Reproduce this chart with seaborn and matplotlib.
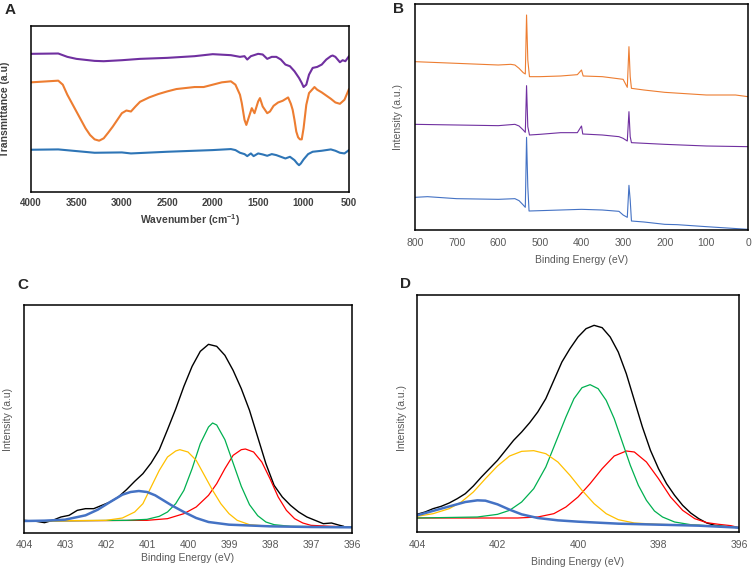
import numpy as np
import pandas as pd
import matplotlib.pyplot as plt
import seaborn as sns

sns.set_style("white")
plt.rcParams['font.family'] = ['Liberation Sans', 'DejaVu Sans']
plt.rcParams['mathtext.fontset'] = 'custom'
plt.rcParams['mathtext.rm'] = 'Liberation Sans'
plt.rcParams['mathtext.bf'] = 'Liberation Sans:bold'

# ---- A: FTIR, transmittance in arbitrary units ----
a_wn_purple = [4000, 3700, 3600, 3500, 3300, 3200, 3000, 2800, 2500, 2200, 2000, 1800, 1700, 1650, 1620,
               1580, 1500, 1450, 1400, 1350, 1300, 1250, 1200, 1150, 1100, 1050, 1020, 1000, 970, 940,
               900, 850, 800, 750, 700, 680, 650, 600, 570, 540, 500]
a_t_purple = [412, 413, 403, 397, 391, 390, 393, 397, 400, 405, 411, 408, 403, 405, 395,
              405, 412, 410, 397, 403, 403, 395, 380, 375, 360, 340, 325, 313, 320, 350,
              370, 373, 380, 395, 405, 407, 403, 387, 393, 390, 405]
a_wn_orange = [4000, 3700, 3650, 3600, 3500, 3400, 3350, 3300, 3250, 3200, 3150, 3100, 3000, 2950, 2900,
               2850, 2800, 2700, 2600, 2500, 2400, 2300, 2200, 2100, 2000, 1900, 1800, 1750, 1700, 1680,
               1650, 1630, 1600, 1570, 1540, 1500, 1480, 1450, 1400, 1370, 1330, 1280, 1230, 1200, 1170,
               1140, 1120, 1100, 1080, 1060, 1040, 1020, 1000, 970, 940, 900, 880, 850, 800, 700,
               650, 600, 550, 500]
a_t_orange = [327, 332, 320, 290, 240, 190, 170, 157, 153, 160, 177, 195, 235, 243, 240,
              255, 269, 282, 292, 300, 307, 310, 313, 313, 320, 327, 330, 320, 290, 265,
              215, 200, 225, 250, 235, 270, 280, 255, 235, 240, 257, 267, 272, 277, 282,
              263, 245, 215, 180, 163, 157, 157, 190, 260, 295, 307, 313, 305, 297, 278,
              267, 263, 275, 307]
a_wn_blue = [4000, 3700, 3500, 3300, 3000, 2900, 2500, 2000, 1800, 1750, 1700, 1650, 1620, 1580, 1550,
             1500, 1450, 1400, 1350, 1300, 1250, 1200, 1150, 1100, 1070, 1050, 1030, 1000, 950, 900,
             800, 700, 650, 600, 550, 500]
a_t_blue = [126, 127, 122, 117, 118, 115, 120, 125, 128, 125, 117, 113, 107, 115, 107,
            115, 112, 108, 113, 110, 105, 100, 105, 95, 85, 80, 85, 97, 113, 120,
            123, 127, 123, 117, 115, 125]

# ---- B: XPS survey ----
b_be_orange = [800, 700, 600, 570, 560, 550, 540, 535, 532, 529, 525, 500, 450, 410, 400,
               396, 350, 300, 290, 286, 283, 280, 250, 200, 100, 30, 0]
b_i_orange = [505, 500, 495, 497, 495, 485, 472, 468, 645, 510, 460, 460, 462, 466, 480,
              462, 460, 452, 428, 550, 460, 425, 420, 413, 405, 405, 400]
b_be_purple = [800, 700, 600, 560, 550, 540, 535, 532, 529, 525, 500, 450, 410, 400, 397,
               350, 310, 300, 290, 286, 283, 280, 200, 100, 0]
b_i_purple = [317, 315, 313, 317, 312, 300, 293, 433, 310, 285, 287, 292, 292, 312, 288,
              285, 280, 275, 267, 355, 280, 262, 257, 252, 250]
b_be_blue = [800, 770, 700, 600, 560, 550, 540, 535, 532, 529, 526, 500, 450, 400, 350,
             310, 300, 290, 286, 283, 280, 250, 200, 170, 100, 0]
b_i_blue = [98, 100, 94, 92, 94, 88, 75, 68, 278, 130, 57, 58, 60, 62, 60,
            56, 45, 38, 134, 90, 27, 24, 17, 16, 10, 2]

# ---- C: N 1s high resolution ----
c_be_total = [404.0, 403.7, 403.5, 403.3, 403.1, 402.9, 402.7, 402.5, 402.3, 402.1, 401.9, 401.7, 401.5,
              401.3, 401.1, 400.9, 400.7, 400.5, 400.3, 400.1, 399.9, 399.7, 399.5, 399.3, 399.1, 398.9,
              398.7, 398.5, 398.3, 398.1, 397.9, 397.7, 397.5, 397.3, 397.1, 396.9, 396.7, 396.5, 396.3, 396.2]
c_i_total = [38, 35, 31, 38, 48, 53, 68, 73, 73, 83, 93, 108, 130,
             155, 178, 210, 250, 310, 372, 440, 500, 545, 566, 560, 533, 488,
             433, 368, 288, 208, 143, 108, 83, 63, 48, 38, 28, 30, 23, 20]
c_be_green = [404, 401.5, 401, 400.7, 400.5, 400.3, 400.1, 399.9, 399.7, 399.5, 399.4, 399.3, 399.1,
              398.9, 398.7, 398.5, 398.3, 398.1, 397.9, 397.5, 396]
c_i_green = [36, 38, 41, 50, 63, 88, 128, 193, 268, 318, 330, 324, 280,
             210, 140, 85, 52, 33, 25, 20, 18]
c_be_yellow = [404, 402, 401.6, 401.3, 401.1, 400.9, 400.7, 400.5, 400.3, 400.2, 400.0, 399.8, 399.6,
               399.4, 399.2, 399.0, 398.8, 398.5, 398, 396]
c_i_yellow = [36, 38, 45, 63, 88, 138, 188, 228, 246, 250, 243, 218, 173,
              128, 88, 58, 38, 25, 20, 18]
c_be_red = [404, 401, 400.5, 400.1, 399.8, 399.5, 399.3, 399.1, 398.9, 398.7, 398.6, 398.4, 398.2,
            398.0, 397.8, 397.6, 397.4, 397.2, 397.0, 396.5, 396]
c_i_red = [36, 38, 43, 58, 78, 113, 148, 193, 233, 250, 252, 243, 213,
           163, 108, 68, 43, 30, 23, 20, 18]
c_be_blue = [404, 403.5, 403, 402.5, 402.2, 401.9, 401.6, 401.4, 401.2, 401.0, 400.8, 400.6, 400.4,
             400.1, 399.8, 399.5, 399, 398, 397, 396]
c_i_blue = [36, 37, 40, 53, 70, 93, 115, 123, 126, 123, 113, 98, 83,
            63, 45, 33, 25, 20, 18, 17]

# ---- D: N 1s high resolution ----
d_be_total = [404.0, 403.8, 403.6, 403.4, 403.2, 403.0, 402.8, 402.6, 402.4, 402.2, 402.0, 401.8, 401.6,
              401.4, 401.2, 401.0, 400.8, 400.6, 400.4, 400.2, 400.0, 399.8, 399.6, 399.4, 399.2, 399.0,
              398.8, 398.6, 398.4, 398.2, 398.0, 397.8, 397.6, 397.4, 397.2, 397.0, 396.8, 396.6, 396.4,
              396.2, 396.0]
d_i_total = [53, 60, 70, 77, 87, 100, 115, 138, 165, 190, 215, 245, 275,
             300, 328, 360, 400, 455, 510, 550, 585, 610, 620, 613, 585, 540,
             475, 395, 315, 245, 190, 145, 110, 80, 57, 40, 27, 20, 17,
             15, 13]
d_be_green = [404, 402.5, 402, 401.7, 401.4, 401.1, 400.8, 400.5, 400.3, 400.1, 399.9, 399.7, 399.5,
              399.3, 399.1, 398.9, 398.7, 398.5, 398.3, 398.1, 397.9, 397.6, 397.2, 396.8, 396.4, 396]
d_i_green = [42, 45, 53, 65, 90, 130, 195, 285, 345, 400, 433, 442, 430,
             395, 340, 270, 200, 140, 95, 63, 45, 30, 22, 19, 17, 13]
d_be_yellow = [404, 403.6, 403.2, 402.9, 402.6, 402.3, 402.0, 401.7, 401.4, 401.1, 400.8, 400.5, 400.2,
               399.9, 399.6, 399.3, 399.0, 398.6, 398, 397, 396]
d_i_yellow = [47, 55, 70, 90, 120, 160, 198, 228, 242, 244, 235, 210, 170,
              125, 85, 55, 37, 27, 23, 20, 13]
d_be_red = [404, 401.5, 401, 400.6, 400.3, 400.0, 399.7, 399.4, 399.1, 398.8, 398.6, 398.3, 398.0,
            397.7, 397.4, 397.1, 396.8, 396.5, 396.2, 396]
d_i_red = [42, 42, 45, 55, 75, 105, 145, 190, 228, 243, 240, 210, 160,
           105, 65, 40, 28, 23, 19, 13]
d_be_blue = [404, 403.7, 403.4, 403.1, 402.8, 402.5, 402.3, 402.0, 401.7, 401.4, 401.0, 400.5, 400,
             399, 398, 397, 396]
d_i_blue = [50, 60, 70, 80, 90, 95, 94, 83, 67, 53, 42, 35, 31,
            25, 22, 19, 13]

PURPLE = '#7030A0'
ORANGE = '#ED7D31'
BLUE_A = '#2E75B6'
BLUE = '#4472C4'
GREEN = '#00B050'
YELLOW = '#FFC000'
RED = '#FF0000'
GRAY = '#595959'

W, H = 753, 569
fig = plt.figure(figsize=(W / 100, H / 100), dpi=100)


def add_axes(left, top, right, bottom):
    # pixel box -> figure fraction
    return fig.add_axes([left / W, 1 - bottom / H, (right - left) / W, (bottom - top) / H])


def style(ax, lw=1.1):
    for s in ax.spines.values():
        s.set_visible(True)
        s.set_color('black')
        s.set_linewidth(lw)
    ax.set_yticks([])
    ax.tick_params(axis='x', length=0)


def line(ax, x, y, color, lw):
    sns.lineplot(x=x, y=y, color=color, linewidth=lw, sort=False, ax=ax)


# A
ax = add_axes(31, 26, 349, 192)
line(ax, a_wn_purple, a_t_purple, PURPLE, 1.5)
line(ax, a_wn_orange, a_t_orange, ORANGE, 1.5)
line(ax, a_wn_blue, a_t_blue, BLUE_A, 1.5)
ax.set_xlim(4000, 500)
ax.set_ylim(0, 495)
ax.set_xticks(np.arange(4000, 499, -500))
style(ax)
ax.tick_params(axis='x', pad=4, labelsize=7, labelcolor='#404040')
for t in ax.get_xticklabels():
    t.set_fontweight('bold')
ax.set_xlabel(r"Wavenumber (cm$^{\mathbf{-1}}$)", fontsize=7.5, fontweight='bold', color='#404040')
ax.set_ylabel("Transmittance (a.u)", fontsize=7.5, fontweight='bold', color='#404040')
ax.xaxis.set_label_coords(0.5, -0.12)
ax.yaxis.set_label_coords(-0.066, 0.5)

# B
ax = add_axes(415, 4, 748, 230)
line(ax, b_be_orange, b_i_orange, ORANGE, 0.8)
line(ax, b_be_purple, b_i_purple, PURPLE, 0.8)
line(ax, b_be_blue, b_i_blue, BLUE, 0.8)
ax.set_xlim(800, 0)
ax.set_ylim(0, 678)
ax.set_xticks(np.arange(800, -1, -100))
style(ax)
ax.tick_params(axis='x', pad=6, labelsize=7.5, labelcolor=GRAY)
ax.set_xlabel("Binding Energy (eV)", fontsize=7.5, color=GRAY)
ax.set_ylabel("Intensity (a.u.)", fontsize=7.5, color=GRAY)
ax.xaxis.set_label_coords(0.5, -0.11)
ax.yaxis.set_label_coords(-0.036, 0.5)

# C
ax = add_axes(24, 305, 352, 533)
line(ax, c_be_total, c_i_total, 'black', 1.0)
line(ax, c_be_red, c_i_red, RED, 0.9)
line(ax, c_be_green, c_i_green, GREEN, 0.9)
line(ax, c_be_yellow, c_i_yellow, YELLOW, 0.9)
line(ax, c_be_blue, c_i_blue, BLUE, 1.8)
ax.set_xlim(404, 396)
ax.set_ylim(0, 684)
ax.set_xticks(np.arange(404, 395.5, -1))
style(ax)
ax.tick_params(axis='x', pad=5, labelsize=7.5, labelcolor=GRAY)
ax.set_xlabel("Binding Energy (eV)", fontsize=7.5, color=GRAY)
ax.set_ylabel("Intensity (a.u)", fontsize=7.5, color=GRAY)
ax.xaxis.set_label_coords(0.5, -0.088)
ax.yaxis.set_label_coords(-0.034, 0.5)

# D
ax = add_axes(417, 295, 739, 532)
line(ax, d_be_total, d_i_total, 'black', 1.0)
line(ax, d_be_red, d_i_red, RED, 0.9)
line(ax, d_be_green, d_i_green, GREEN, 0.9)
line(ax, d_be_yellow, d_i_yellow, YELLOW, 0.9)
line(ax, d_be_blue, d_i_blue, BLUE, 1.8)
ax.set_xlim(404, 396)
ax.set_ylim(0, 711)
ax.set_xticks(np.arange(404, 395.5, -2))
style(ax)
ax.tick_params(axis='x', pad=6, labelsize=7.5, labelcolor=GRAY)
ax.set_xlabel("Binding Energy (eV)", fontsize=7.5, color=GRAY)
ax.set_ylabel("Intensity (a.u.)", fontsize=7.5, color=GRAY)
ax.xaxis.set_label_coords(0.5, -0.105)
ax.yaxis.set_label_coords(-0.031, 0.48)

# panel letters
for letter, px, py in [('A', 5, 3), ('B', 393, 2), ('C', 17, 278), ('D', 400, 277)]:
    fig.text(px / W, 1 - py / H, letter, fontsize=11, fontweight='bold', ha='left', va='top')

fig.savefig("out.png", dpi=100)
plt.close(fig)
